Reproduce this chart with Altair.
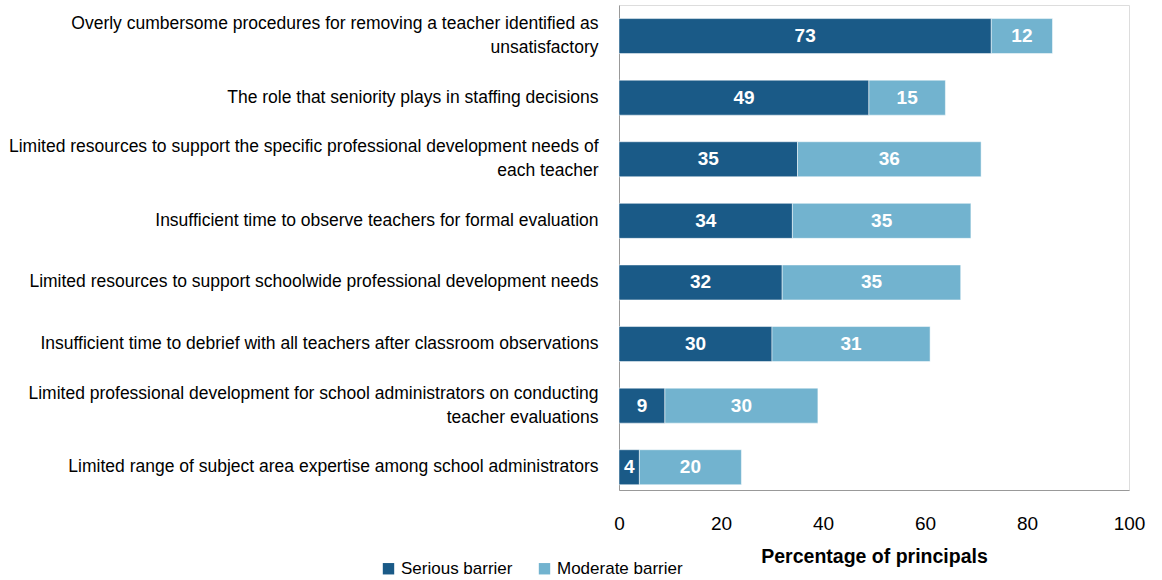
import altair as alt
import pandas as pd

categories = [
    "Overly cumbersome procedures for removing a teacher identified as|unsatisfactory",
    "The role that seniority plays in staffing decisions",
    "Limited resources to support the specific professional development needs of|each teacher",
    "Insufficient time to observe teachers for formal evaluation",
    "Limited resources to support schoolwide professional development needs",
    "Insufficient time to debrief with all teachers after classroom observations",
    "Limited professional development for school administrators on conducting|teacher evaluations",
    "Limited range of subject area expertise among school administrators",
]
serious = [73, 49, 35, 34, 32, 30, 9, 4]
moderate = [12, 15, 36, 35, 35, 31, 30, 20]
series = ["Serious barrier", "Moderate barrier"]
colors = ["#1a5a87", "#72b3cf"]

rows = []
for c, s, m in zip(categories, serious, moderate):
    rows.append({"cat": c, "series": series[0], "value": s, "start": 0, "end": s})
    rows.append({"cat": c, "series": series[1], "value": m, "start": s, "end": s + m})
df = pd.DataFrame(rows)
df["mid"] = (df["start"] + df["end"]) / 2

FONT = "Liberation Sans"

base = alt.Chart(df)

y_enc = alt.Y(
    "cat:N",
    sort=categories,
    scale=alt.Scale(paddingInner=0.432, paddingOuter=0.153, align=0.72),
    axis=alt.Axis(
        title=None,
        ticks=False,
        domainColor="#999999",
        labelExpr="split(datum.label, '|')",
        labelOffset=alt.ExprRef("indexof(datum.value, '|') >= 0 ? -12 : 0"),
        labelFont=FONT,
        labelFontSize=17.5,
        labelColor="#000000",
        labelPadding=21,
        labelLimit=700,
        labelLineHeight=24,
    ),
)

bars = base.mark_bar(stroke="#ffffff", strokeWidth=0.5).encode(
    y=y_enc,
    x=alt.X(
        "start:Q",
        scale=alt.Scale(domain=[0, 100]),
        axis=alt.Axis(
            values=[0, 20, 40, 60, 80, 100],
            grid=False,
            ticks=False,
            labelFlush=False,
            domainColor="#999999",
            labelFont=FONT,
            labelFontSize=19,
            labelColor="#000000",
            labelPadding=24,
            title="Percentage of principals",
            titleFont=FONT,
            titleFontSize=19.5,
            titleFontWeight="bold",
            titleColor="#000000",
            titlePadding=14,
        ),
    ),
    x2="end:Q",
    color=alt.Color(
        "series:N",
        sort=series,
        scale=alt.Scale(domain=series, range=colors),
        legend=alt.Legend(
            title=None,
            orient="none",
            legendX=-239,
            legendY=555,
            direction="horizontal",
            symbolType="square",
            symbolSize=130,
            symbolStrokeWidth=0,
            labelFont=FONT,
            labelFontSize=17,
            labelColor="#000000",
            columnPadding=23,
        ),
    ),
)

labels = base.mark_text(
    color="white", fontWeight="bold", fontSize=19, font="Liberation Sans", baseline="middle"
).encode(
    y=alt.Y("cat:N", sort=categories),
    x="mid:Q",
    text="value:Q",
)

chart = (
    alt.layer(bars, labels)
    .properties(
        width=510,
        height=485,
        autosize=alt.AutoSizeParams(type="none"),
        padding={"left": 619, "top": 5, "right": 33, "bottom": 90},
    )
    .configure_view(stroke=None)
    .configure(background="white")
)

chart.save("out.html", embed_options={"renderer": "svg", "actions": False})
